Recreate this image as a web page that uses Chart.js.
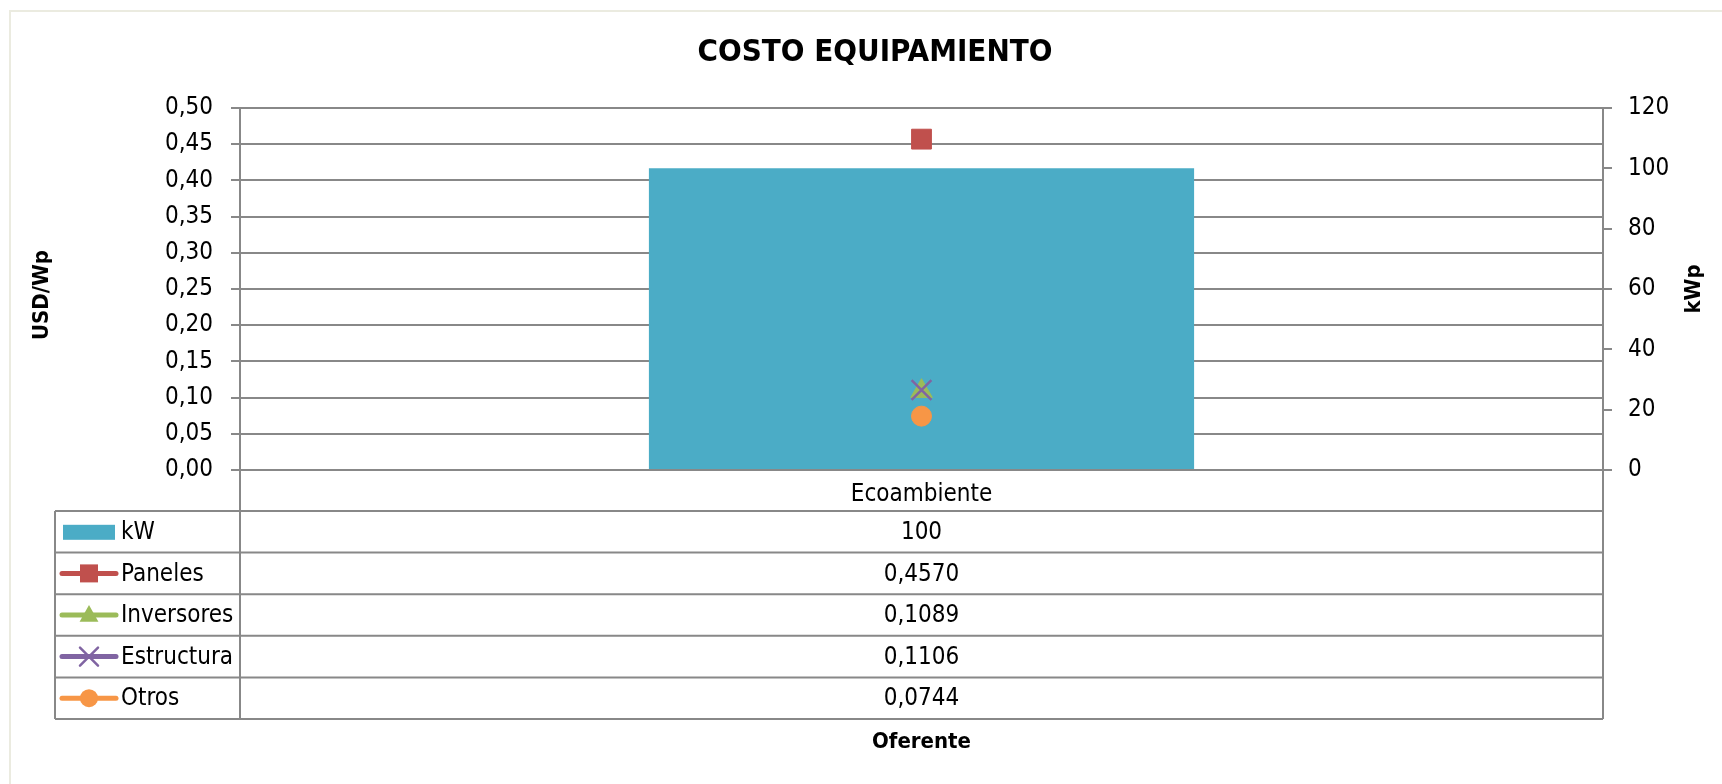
<!DOCTYPE html>
<html>
<head>
<meta charset="utf-8">
<script src="https://cdn.jsdelivr.net/npm/chart.js@4.4.1/dist/chart.umd.min.js"></script>
<style>
  html, body { margin: 0; padding: 0; background: #fff; }
  #wrap { position: relative; width: 1722px; height: 784px; overflow: hidden; }
  #frame { position: absolute; left: 9px; top: 10px; width: 1800px; height: 900px;
           border-left: 2px solid #ebebe0; border-top: 2px solid #ebebe0; }
  canvas { position: absolute; left: 0; top: 0; }
</style>
</head>
<body>
<div id="wrap">
  <div id="frame"></div>
  <canvas id="grafico" width="1722" height="784"></canvas>
</div>
<script>
// datos
var categorias = ["Ecoambiente"];
var kw = [100];
var paneles = [0.4570];
var inversores = [0.1089];
var estructura = [0.1106];
var otros = [0.0744];

var titulo = "COSTO EQUIPAMIENTO";
var tituloIzq = "USD/Wp";
var tituloDer = "kWp";
var tituloX = "Oferente";

var FUENTE = "'DejaVu Sans Condensed', 'Liberation Sans', sans-serif";
var GRIS = "#888888";

// filas de la tabla de datos (leyenda + valores)
var filas = [
  { nombre: "kW", datos: kw, color: "#4bacc6", tipo: "bar", texto: (v) => String(v) },
  { nombre: "Paneles", datos: paneles, color: "#c0504d", tipo: "rect" },
  { nombre: "Inversores", datos: inversores, color: "#9bbb59", tipo: "triangle" },
  { nombre: "Estructura", datos: estructura, color: "#8064a2", tipo: "crossRot" },
  { nombre: "Otros", datos: otros, color: "#f79646", tipo: "circle" },
];

function coma(v, dec) {
  return v.toFixed(dec).replace(".", ",");
}

function marcador(ctx, tipo, x, y, r, color) {
  ctx.save();
  ctx.fillStyle = color;
  ctx.strokeStyle = color;
  ctx.beginPath();
  if (tipo == "rect") {
    ctx.fillRect(x - r, y - r, 2 * r, 2 * r);
  } else if (tipo == "triangle") {
    ctx.moveTo(x, y - r * 1.1);
    ctx.lineTo(x + r * 1.05, y + r * 0.75);
    ctx.lineTo(x - r * 1.05, y + r * 0.75);
    ctx.closePath();
    ctx.fill();
  } else if (tipo == "crossRot") {
    ctx.lineWidth = 2.5;
    ctx.moveTo(x - r, y - r);
    ctx.lineTo(x + r, y + r);
    ctx.moveTo(x + r, y - r);
    ctx.lineTo(x - r, y + r);
    ctx.stroke();
  } else if (tipo == "circle") {
    ctx.arc(x, y, r, 0, Math.PI * 2);
    ctx.fill();
  }
  ctx.restore();
}

// dibuja titulo, titulos de ejes y la tabla de datos debajo del grafico
const tablaPlugin = {
  id: "tabla",
  afterDraw(chart) {
    const ctx = chart.ctx;
    const area = chart.chartArea;
    const xs = chart.scales.x;
    const izq = 55;
    const arriba = xs.bottom;
    const alto = 41.6;
    const abajo = arriba + alto * filas.length;
    const centroX = xs.getPixelForValue(0);

    ctx.save();
    ctx.strokeStyle = GRIS;
    ctx.lineWidth = 2;
    ctx.beginPath();
    // lineas verticales
    ctx.moveTo(area.left, area.bottom);
    ctx.lineTo(area.left, abajo);
    ctx.moveTo(area.right, area.bottom);
    ctx.lineTo(area.right, abajo);
    ctx.moveTo(izq, arriba);
    ctx.lineTo(izq, abajo);
    // lineas horizontales
    for (let i = 0; i <= filas.length; i++) {
      const y = arriba + alto * i;
      ctx.moveTo(izq, y);
      ctx.lineTo(area.right, y);
    }
    ctx.stroke();

    ctx.fillStyle = "#000";
    ctx.textBaseline = "middle";
    ctx.font = "24px " + FUENTE;
    filas.forEach((f, i) => {
      const cy = arriba + alto * i + alto / 2;
      if (f.tipo == "bar") {
        ctx.fillStyle = f.color;
        ctx.fillRect(63, cy - 7, 52, 15);
      } else {
        ctx.strokeStyle = f.color;
        ctx.lineWidth = 5;
        ctx.lineCap = "round";
        ctx.beginPath();
        ctx.moveTo(62, cy);
        ctx.lineTo(116, cy);
        ctx.stroke();
        marcador(ctx, f.tipo, 89, cy, 9, f.color);
      }
      ctx.fillStyle = "#000";
      ctx.textAlign = "left";
      ctx.fillText(f.nombre, 121, cy + 1);
      ctx.textAlign = "center";
      const txt = f.texto ? f.texto(f.datos[0]) : coma(f.datos[0], 4);
      ctx.fillText(txt, centroX, cy + 1);
    });

    // titulos
    ctx.font = "bold 31px " + FUENTE;
    ctx.textAlign = "center";
    ctx.fillText(titulo, 875, 53);
    ctx.font = "bold 22px " + FUENTE;
    ctx.fillText(tituloX, centroX, 742);
    ctx.save();
    ctx.translate(42, 295);
    ctx.rotate(-Math.PI / 2);
    ctx.fillText(tituloIzq, 0, 0);
    ctx.restore();
    ctx.save();
    ctx.translate(1694, 289);
    ctx.rotate(-Math.PI / 2);
    ctx.fillText(tituloDer, 0, 0);
    ctx.restore();
    ctx.restore();
  },
};

const data = {
  labels: categorias,
  datasets: [
    {
      type: "line",
      label: "Paneles",
      data: paneles,
      yAxisID: "y",
      showLine: false,
      pointStyle: "rect",
      pointRadius: 14,
      pointBackgroundColor: "#c0504d",
      pointBorderColor: "#c0504d",
      pointBorderWidth: 1,
      order: 1,
    },
    {
      type: "line",
      label: "Inversores",
      data: inversores,
      yAxisID: "y",
      showLine: false,
      pointStyle: "triangle",
      pointRadius: 12.5,
      pointBackgroundColor: "#9bbb59",
      pointBorderColor: "#9bbb59",
      pointBorderWidth: 1,
      order: 3,
    },
    {
      type: "line",
      label: "Estructura",
      data: estructura,
      yAxisID: "y",
      showLine: false,
      pointStyle: "crossRot",
      pointRadius: 14,
      pointBorderColor: "#8064a2",
      pointBorderWidth: 2.5,
      order: 2,
    },
    {
      type: "line",
      label: "Otros",
      data: otros,
      yAxisID: "y",
      showLine: false,
      pointStyle: "circle",
      pointRadius: 10,
      pointBackgroundColor: "#f79646",
      pointBorderColor: "#f79646",
      pointBorderWidth: 1,
      order: 1,
    },
    {
      type: "bar",
      label: "kW",
      data: kw,
      yAxisID: "y1",
      backgroundColor: "#4bacc6",
      barPercentage: 0.4,
      categoryPercentage: 1,
      order: 10,
    },
  ],
};

const options = {
  responsive: false,
  animation: false,
  layout: { padding: { top: 108, bottom: 273, left: 0, right: 0 } },
  plugins: {
    legend: { display: false },
    tooltip: { enabled: false },
    title: { display: false },
  },
  scales: {
    x: {
      offset: true,
      grid: { display: false },
      border: { display: false },
      ticks: { color: "#000", font: { family: FUENTE, size: 24 }, padding: 2 },
      afterFit: (s) => { s.height = 41; },
    },
    y: {
      position: "left",
      min: 0,
      max: 0.5,
      grid: { color: GRIS, lineWidth: 2, tickLength: 9 },
      border: { color: GRIS, width: 2 },
      ticks: {
        stepSize: 0.05,
        autoSkip: false,
        color: "#000",
        padding: 18,
        font: { family: FUENTE, size: 24 },
        callback: (v) => coma(v, 2),
      },
      afterFit: (s) => { s.width = 240; },
    },
    y1: {
      position: "right",
      min: 0,
      max: 120,
      grid: { drawOnChartArea: false, color: GRIS, lineWidth: 2, tickLength: 9 },
      border: { color: GRIS, width: 2 },
      ticks: {
        stepSize: 20,
        autoSkip: false,
        color: "#000",
        padding: 16,
        font: { family: FUENTE, size: 24 },
      },
      afterFit: (s) => { s.width = 119; },
    },
  },
};

new Chart(document.getElementById("grafico"), {
  data,
  options,
  plugins: [tablaPlugin],
});
</script>
</body>
</html>
